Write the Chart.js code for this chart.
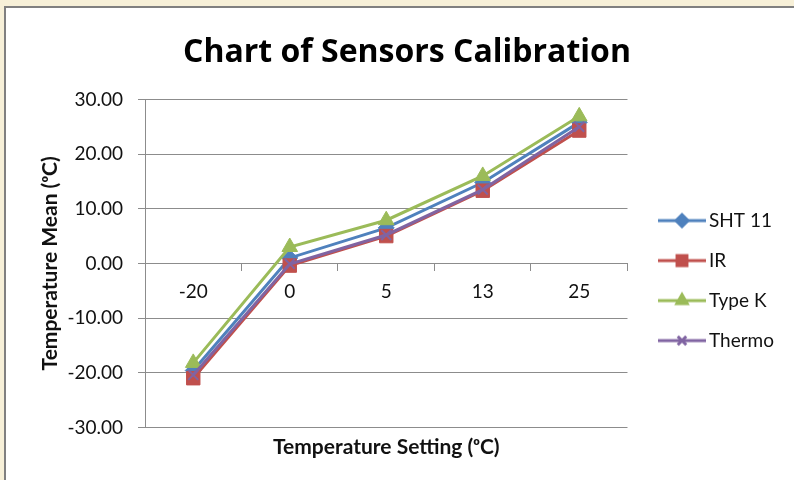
<!DOCTYPE html>
<html><head><meta charset="utf-8">
<script src="https://cdn.jsdelivr.net/npm/chart.js@4"></script>
<style>
html,body{margin:0;padding:0;background:#f7f0d8;}
#wrap{position:absolute;left:0;top:0;width:794px;height:480px;}
</style>
</head><body><div id="wrap"><canvas id="c" width="794" height="480"></canvas></div>
<script>
const categories = ['-20', '0', '5', '13', '25'];
const seriesNames = ['SHT 11', 'IR', 'Type K', 'Thermo'];
const sht11  = [-19.6, 1.0, 6.5, 14.8, 25.8];
const ir     = [-21.0, -0.4, 5.0, 13.3, 24.3];
const typeK  = [-18.2, 3.0, 7.9, 16.0, 26.9];
const thermo = [-20.4, -0.1, 5.2, 13.5, 25.0];
const yTicks = [-30, -20, -10, 0, 10, 20, 30];

const colors = ['#4f81bd', '#c0504d', '#9bbb59', '#8064a2'];
const styles = ['rectRot', 'rect', 'triangle', 'crossRot'];
const radii = [8, 9.5, 9, 7];
const FONT = 'Lato, "Open Sans", sans-serif';
const TITLE_FONT = '"Open Sans", Lato, sans-serif';

function makeIcon(color, style) {
  const c = document.createElement('canvas');
  c.width = 64; c.height = 20;
  const g = c.getContext('2d');
  g.strokeStyle = color; g.lineWidth = 3;
  g.beginPath(); g.moveTo(16, 10); g.lineTo(64, 10); g.stroke();
  g.fillStyle = color;
  Chart.helpers.drawPoint(g, {pointStyle: style, radius: style === 'rect' ? 7 : 6, borderWidth: style === 'crossRot' ? 2 : 1, rotation: 0}, 40, 10);
  return c;
}

const dataArrays = [sht11, ir, typeK, thermo];
const datasets = seriesNames.map((name, i) => ({
  label: name,
  data: dataArrays[i],
  borderColor: colors[i],
  backgroundColor: colors[i],
  pointBackgroundColor: colors[i],
  pointBorderColor: colors[i],
  borderWidth: 3,
  pointStyle: styles[i],
  pointRadius: radii[i],
  pointBorderWidth: styles[i] === 'crossRot' ? 2 : 1,
  order: 3 - i,
  tension: 0
}));

const framePlugin = {
  id: 'frame',
  beforeDraw(chart) {
    const g = chart.ctx;
    g.save();
    g.fillStyle = '#f7f0d8';
    g.fillRect(0, 0, 794, 480);
    g.fillStyle = '#ffffff';
    g.fillRect(5, 7, 789, 473);
    g.strokeStyle = '#808080';
    g.lineWidth = 2;
    g.beginPath(); g.moveTo(5, 480); g.lineTo(5, 7); g.lineTo(794, 7); g.stroke();
    g.restore();
  }
};

new Chart(document.getElementById('c'), {
  type: 'line',
  data: { labels: categories, datasets },
  plugins: [framePlugin],
  options: {
    responsive: false,
    animation: false,
    layout: { padding: { left: 30, right: 10, top: 0, bottom: 20 } },
    plugins: {
      title: {
        display: true,
        text: 'Chart of Sensors Calibration',
        color: '#000',
        font: { family: TITLE_FONT, size: 32, weight: 'bold' },
        padding: { top: 34, bottom: 27 }
      },
      legend: {
        position: 'right',
        fullSize: false,
        align: 'center',
        title: { display: true, text: '', font: { size: 12 }, padding: { top: 20, bottom: 0 } },
        labels: {
          usePointStyle: true,
          pointStyleWidth: 51,
          padding: 21,
          color: '#111',
          font: { family: FONT, size: 19 },
          generateLabels(chart) {
            const items = Chart.defaults.plugins.legend.labels.generateLabels(chart);
            items.sort((a, b) => a.datasetIndex - b.datasetIndex);
            items.forEach(it => { it.pointStyle = makeIcon(colors[it.datasetIndex], styles[it.datasetIndex]); });
            return items;
          }
        }
      },
      tooltip: { enabled: false }
    },
    scales: {
      x: {
        type: 'category',
        position: { y: 0 },
        offset: true,
        grid: { drawOnChartArea: false, drawTicks: true, tickLength: 7, offset: true, color: '#8c8c8c' },
        border: { display: true, color: '#8c8c8c' },
        ticks: { padding: 10.5, color: '#111', font: { family: FONT, size: 19 } }
      },
      x2: {
        type: 'category',
        labels: categories,
        position: 'bottom',
        offset: true,
        grid: { display: false, drawTicks: false },
        border: { display: false },
        ticks: { display: false },
        title: { display: true, text: 'Temperature Setting (ᵒC)', color: '#111', font: { family: FONT, size: 21, weight: 'bold' }, padding: { top: 7.4, bottom: 0 } }
      },
      y: {
        min: -30, max: 30,
        afterBuildTicks(s) { s.ticks = yTicks.map(v => ({ value: v })); },
        afterFit(s) { s.width = 115; },
        ticks: { padding: 15, color: '#111', font: { family: FONT, size: 19 }, callback: v => Number(v).toFixed(2) },
        grid: { color: '#8c8c8c', tickLength: 7, drawTicks: true },
        border: { display: true, color: '#8c8c8c' },
        title: { display: true, text: 'Temperature Mean (ᵒC)', color: '#111', font: { family: FONT, size: 21, weight: 'bold' }, padding: { top: 7.4, bottom: 0 } }
      }
    }
  }
});
</script>
</body></html>
